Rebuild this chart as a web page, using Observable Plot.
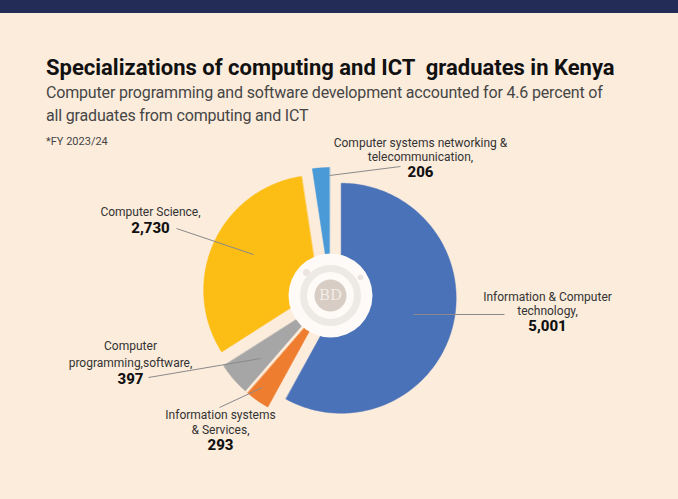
<!DOCTYPE html>
<html>
<head>
<meta charset="utf-8">
<script src="https://cdn.jsdelivr.net/npm/d3@7"></script>
<script src="https://cdn.jsdelivr.net/npm/@observablehq/plot@0.6"></script>
<style>
  html, body { margin: 0; padding: 0; }
  body { width: 678px; height: 499px; overflow: hidden; position: relative; background: #fcecdc; font-family: Roboto, "Liberation Sans", sans-serif; }
  #band { position: absolute; left: 0; top: 0; width: 678px; height: 13px; background: #232b57; }
  #title { position: absolute; left: 46px; top: 55px; font-size: 22px; line-height: 26px; font-weight: 700; letter-spacing: 0px; color: #111; white-space: pre; }
  #subtitle { position: absolute; left: 46px; top: 81px; font-size: 16px; line-height: 23px; color: #464646; white-space: nowrap; letter-spacing: -0.17px; }
  #note { position: absolute; left: 46px; top: 135px; font-size: 11px; line-height: 14px; color: #444; }
  #chart { position: absolute; left: 0; top: 125px; }
</style>
</head>
<body>
<div id="band"></div>
<div id="title">Specializations of computing and ICT  graduates in Kenya</div>
<div id="subtitle">Computer programming and software development accounted for 4.6 percent of<br>all graduates from computing and ICT</div>
<div id="note">*FY 2023/24</div>
<div id="chart"></div>
<script>
// ---- data ----
const categories = [
  "Information & Computer technology",
  "Information systems & Services",
  "Computer programming,software",
  "Computer Science",
  "Computer systems networking & telecommunication"
];
const values = [5001, 293, 397, 2730, 206];
const colors = ["#4a72b9", "#ef7d30", "#a6a6a6", "#fcbd15", "#4b9ad8"];
const labelLines = [
  ["Information & Computer", "technology,"],
  ["Information systems", "& Services,"],
  ["Computer", "programming,software,"],
  ["Computer Science,"],
  ["Computer systems networking &", "telecommunication,"]
];

// ---- layout (page pixel frame) ----
const center = {x: 330, y: 295};
const rOuter = 115;
const explode = [11, 13, 13, 13, 13];
const labelLayout = [
  {x: 547, y: 297, dy: 13.5, vy: 326, lx1: 413, ly1: 314, lx2: 504, ly2: 314},
  {x: 220, y: 415, dy: 15,   vy: 445, lx1: 262, ly1: 387, lx2: 219, ly2: 407},
  {x: 130, y: 346, dy: 16.5, vy: 379, lx1: 260, ly1: 358, lx2: 148, ly2: 377},
  {x: 150, y: 212, dy: 15,   vy: 228, lx1: 253, ly1: 254, lx2: 176, ly2: 228},
  {x: 420, y: 143, dy: 14,   vy: 172, lx1: 329, ly1: 175, lx2: 400, ly2: 166}
];
const top0 = 125, W = 678, H = 374;

// ---- geometry from values ----
const arcs = d3.pie().sort(null).value(d => d)(values);
const slices = arcs.map((a, i) => {
  const m = (a.startAngle + a.endAngle) / 2;
  const ox = center.x + explode[i] * Math.sin(m);
  const oy = center.y - explode[i] * Math.cos(m);
  const pts = [{x: ox, y: oy}];
  const n = Math.max(4, Math.ceil((a.endAngle - a.startAngle) / (Math.PI / 180)));
  for (let k = 0; k <= n; k++) {
    const t = a.startAngle + (a.endAngle - a.startAngle) * k / n;
    pts.push({x: ox + rOuter * Math.sin(t), y: oy - rOuter * Math.cos(t)});
  }
  return {points: pts, color: colors[i]};
});

const nameRows = [];
labelLines.forEach((lines, i) => {
  lines.forEach((t, j) => nameRows.push({text: t, x: labelLayout[i].x, y: labelLayout[i].y + j * labelLayout[i].dy}));
});
const valueRows = values.map((v, i) => ({text: d3.format(",")(v), x: labelLayout[i].x, y: labelLayout[i].vy}));
const leaders = labelLayout.map(l => ({x1: l.lx1, y1: l.ly1, x2: l.lx2, y2: l.ly2}));
const logo = [{x: center.x, y: center.y}];
const logoDots = [{x: center.x - 24, y: center.y - 23, r: 8}, {x: center.x + 30, y: center.y - 18, r: 5}];

const chart = Plot.plot({
  width: W,
  height: H,
  margin: 0,
  x: {domain: [0, W], range: [0, W], axis: null},
  y: {domain: [top0, top0 + H], range: [0, H], axis: null},
  style: {background: "transparent", overflow: "visible", fontFamily: "Roboto, sans-serif"},
  marks: [
    ...slices.map(s => Plot.line(s.points, {x: "x", y: "y", fill: s.color, stroke: s.color, strokeWidth: 0.5, curve: "linear-closed"})),
    Plot.dot(logo, {x: "x", y: "y", r: 42, fill: "#fdfaf7", stroke: "none"}),
    Plot.dot(logoDots, {x: "x", y: "y", r: "r", fill: "#e6ded8", stroke: "none", fillOpacity: 0.8}),
    Plot.dot(logo, {x: "x", y: "y", r: 27, fill: "none", stroke: "#ede9e5", strokeWidth: 7}),
    Plot.dot(logo, {x: "x", y: "y", r: 16, fill: "#d8cdc4", stroke: "none"}),
    Plot.text(logo, {x: "x", y: "y", text: () => "BD", fontFamily: "DejaVu Serif, serif", fontSize: 15, fill: "#f2ece6"}),
    Plot.link(leaders, {x1: "x1", y1: "y1", x2: "x2", y2: "y2", stroke: "#8a8a8a", strokeWidth: 1}),
    Plot.text(nameRows, {x: "x", y: "y", text: "text", fontSize: 12, fill: "#333", textAnchor: "middle", style: "letter-spacing:-0.3px"}),
    Plot.text(valueRows, {x: "x", y: "y", text: "text", fontSize: 15, fontWeight: 800, fill: "#111", textAnchor: "middle"})
  ]
});
document.getElementById("chart").appendChild(chart);
</script>
</body>
</html>
